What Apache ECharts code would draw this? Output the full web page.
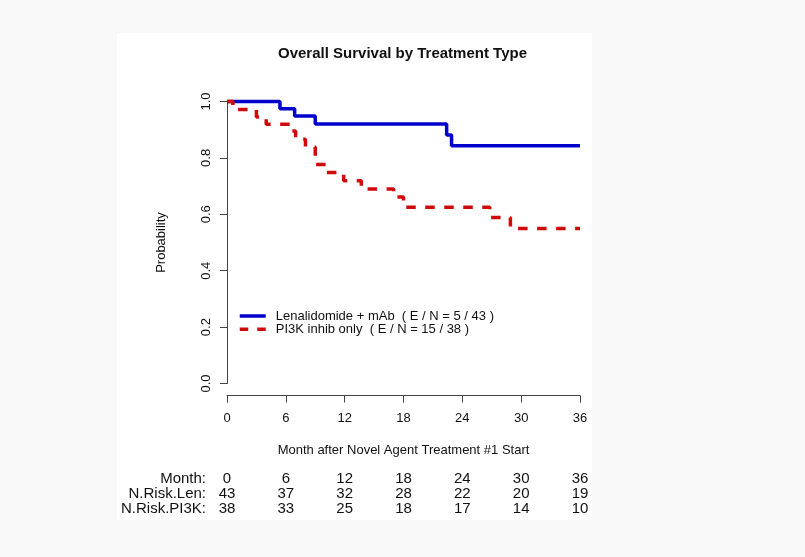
<!DOCTYPE html>
<html>
<head>
<meta charset="utf-8">
<script src="https://cdn.jsdelivr.net/npm/echarts@6/dist/echarts.min.js"></script>
<style>
  html, body { margin: 0; padding: 0; background: #f9f9f9; }
  #chart { width: 805px; height: 557px; }
</style>
</head>
<body>
<div id="chart"></div>
<script>
// step points: month of the drop and survival after it
const lenMonths = [0, 5.4, 6.9, 9.0, 22.4, 22.9, 36]
const lenSurv   = [1.0, 0.974, 0.949, 0.920, 0.881, 0.843, 0.843]

const pi3kMonths = [0, 0.6, 3.0, 4.0, 6.4, 7.0, 8.0, 9.0, 10.1, 11.9, 13.7, 17.0, 18.0, 26.8, 28.9, 36]
const pi3kSurv   = [1.0, 0.972, 0.945, 0.919, 0.895, 0.866, 0.839, 0.777, 0.748, 0.719, 0.690, 0.661, 0.625, 0.589, 0.550, 0.550]

const riskMonths = [0, 6, 12, 18, 24, 30, 36]
const nRiskLen  = [43, 37, 32, 28, 22, 20, 19]
const nRiskPi3k = [38, 33, 25, 18, 17, 14, 10]

const legendNames = [
  'Lenalidomide + mAb  ( E / N = 5 / 43 )',
  'PI3K inhib only  ( E / N = 15 / 38 )'
]

const font = 'Liberation Sans, Arial, sans-serif'
const ink = '#111'

function riskAxis(name, values, offset) {
  return {
    type: 'value',
    position: 'bottom',
    min: 0,
    max: 36,
    interval: 6,
    offset: offset,
    axisLine: { show: false, onZero: false },
    axisTick: { show: false },
    splitLine: { show: false },
    axisLabel: {
      margin: 0,
      verticalAlign: 'middle',
      color: ink,
      fontFamily: font,
      fontSize: 15,
      formatter: v => values[riskMonths.indexOf(v)]
    },
    name: name,
    nameLocation: 'start',
    nameGap: 21,
    nameTextStyle: { color: ink, fontFamily: font, fontSize: 15 }
  }
}

const myChart = echarts.init(document.getElementById('chart'))

const option = {
  backgroundColor: '#f9f9f9',
  animation: false,
  graphic: [
    {
      type: 'rect',
      z: -10,
      shape: { x: 117, y: 33, width: 475, height: 487 },
      style: { fill: '#ffffff' }
    }
  ],
  title: {
    text: 'Overall Survival by Treatment Type',
    left: 'center',
    top: 41,
    textStyle: { color: ink, fontFamily: font, fontSize: 15, fontWeight: 'bold' }
  },
  legend: {
    orient: 'vertical',
    left: 233,
    top: 304.5,
    itemWidth: 26,
    itemHeight: 12,
    itemGap: 0.3,
    data: [
      { name: legendNames[0], lineStyle: { type: 'solid' } },
      { name: legendNames[1], lineStyle: { type: [8.5, 9] } }
    ],
    itemStyle: { opacity: 0 },
    lineStyle: { width: 3.5 },
    textStyle: { color: ink, fontFamily: font, fontSize: 13, padding: [0, 0, 0, 5] }
  },
  grid: {
    left: 227,
    right: 225,
    top: 101.5,
    height: 282
  },
  xAxis: [
    {
      type: 'value',
      min: 0,
      max: 36,
      interval: 6,
      offset: 12,
      axisLine: { onZero: false, lineStyle: { color: '#444', width: 1 } },
      axisTick: { length: 7, lineStyle: { color: '#444' } },
      splitLine: { show: false },
      axisLabel: { margin: 16, color: ink, fontFamily: font, fontSize: 13 },
      name: 'Month after Novel Agent Treatment #1 Start',
      nameLocation: 'middle',
      nameGap: 48,
      nameTextStyle: { color: ink, fontFamily: font, fontSize: 13 }
    },
    riskAxis('Month:', riskMonths, 95.5),
    riskAxis('N.Risk.Len:', nRiskLen, 110.5),
    riskAxis('N.Risk.PI3K:', nRiskPi3k, 125.5)
  ],
  yAxis: {
    type: 'value',
    min: 0,
    max: 1,
    interval: 0.2,
    axisLine: { show: true, onZero: false, lineStyle: { color: '#444', width: 1 } },
    axisTick: { show: true, length: 7, lineStyle: { color: '#444' } },
    splitLine: { show: false },
    axisLabel: {
      rotate: 90,
      margin: 14,
      color: ink,
      fontFamily: font,
      fontSize: 13,
      formatter: v => v.toFixed(1)
    },
    name: 'Probability',
    nameLocation: 'middle',
    nameRotate: 90,
    nameGap: 59,
    nameTextStyle: { color: ink, fontFamily: font, fontSize: 13 }
  },
  series: [
    {
      name: legendNames[0],
      type: 'line',
      step: 'end',
      symbol: 'none',
      clip: false,
      data: lenMonths.map((m, i) => [m, lenSurv[i]]),
      lineStyle: { color: '#0000CD', width: 3.5, cap: 'butt' },
      itemStyle: { color: '#0000CD' }
    },
    {
      name: legendNames[1],
      type: 'line',
      step: 'end',
      symbol: 'none',
      clip: false,
      data: pi3kMonths.map((m, i) => [m, pi3kSurv[i]]),
      lineStyle: { color: '#D00A0A', width: 3.5, type: [9.5, 9.5], cap: 'butt' },
      itemStyle: { color: '#D00A0A' }
    }
  ]
}

myChart.setOption(option)
</script>
</body>
</html>
